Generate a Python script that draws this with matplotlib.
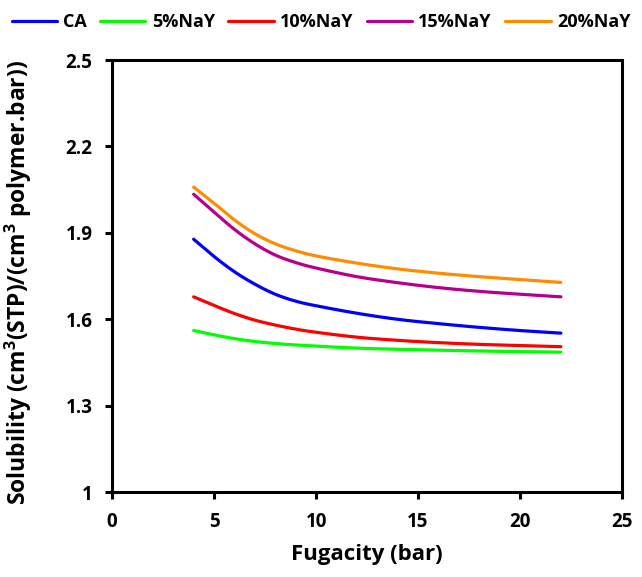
import matplotlib
matplotlib.use("Agg")
import numpy as np
import matplotlib.pyplot as plt

# Fugacity (bar)
fugacity = [4, 5, 6, 7, 8, 9, 10, 12, 14, 16, 18, 20, 22]

# Solubility (cm3(STP)/(cm3 polymer.bar))
ca      = [1.878, 1.818, 1.765, 1.722, 1.687, 1.663, 1.647, 1.621, 1.600, 1.585, 1.572, 1.561, 1.552]
nay_5   = [1.561, 1.546, 1.533, 1.523, 1.516, 1.511, 1.507, 1.500, 1.496, 1.493, 1.490, 1.488, 1.486]
nay_10  = [1.678, 1.648, 1.620, 1.597, 1.580, 1.566, 1.555, 1.538, 1.527, 1.519, 1.513, 1.509, 1.505]
nay_15  = [2.034, 1.972, 1.912, 1.862, 1.823, 1.797, 1.778, 1.748, 1.727, 1.710, 1.697, 1.687, 1.678]
nay_20  = [2.059, 2.003, 1.945, 1.897, 1.862, 1.838, 1.820, 1.795, 1.775, 1.760, 1.748, 1.738, 1.728]

series_names = ["CA", "5%NaY", "10%NaY", "15%NaY", "20%NaY"]
series_values = [ca, nay_5, nay_10, nay_15, nay_20]
colors = ["#0000FF", "#00FF00", "#FF0000", "#B5008F", "#FF8C00"]

x_ticks = [0, 5, 10, 15, 20, 25]
y_ticks = [1, 1.3, 1.6, 1.9, 2.2, 2.5]
y_tick_labels = ["1", "1.3", "1.6", "1.9", "2.2", "2.5"]


def smooth_path(x, y, n=20):
    """Catmull-Rom curve through the points, like a spreadsheet 'smoothed line'."""
    x = np.asarray(x, float)
    y = np.asarray(y, float)
    px = np.concatenate([[2 * x[0] - x[1]], x, [2 * x[-1] - x[-2]]])
    py = np.concatenate([[2 * y[0] - y[1]], y, [2 * y[-1] - y[-2]]])
    t = np.linspace(0, 1, n, endpoint=False)
    xs, ys = [], []
    for i in range(1, len(px) - 2):
        for p, out in ((px, xs), (py, ys)):
            p0, p1, p2, p3 = p[i - 1], p[i], p[i + 1], p[i + 2]
            out.extend(0.5 * ((2 * p1) + (-p0 + p2) * t
                              + (2 * p0 - 5 * p1 + 4 * p2 - p3) * t ** 2
                              + (-p0 + 3 * p1 - 3 * p2 + p3) * t ** 3))
    xs.append(x[-1])
    ys.append(y[-1])
    return np.array(xs), np.array(ys)


plt.rcParams["font.family"] = ["Open Sans", "DejaVu Sans"]
plt.rcParams["font.weight"] = "bold"
plt.rcParams["mathtext.default"] = "regular"

fig = plt.figure(figsize=(6.42, 5.77), dpi=100)
ax = fig.add_axes([0.1745, 0.147, 0.7945, 0.749])

for name, vals, c in zip(series_names, series_values, colors):
    sx, sy = smooth_path(fugacity, vals)
    ax.plot(sx, sy, color=c, lw=2.3, label=name, solid_capstyle="round")

ax.set_xlim(0, 25)
ax.set_ylim(1, 2.5)
ax.set_xticks(x_ticks)
ax.set_yticks(y_ticks)
ax.set_yticklabels(y_tick_labels)

for s in ax.spines.values():
    s.set_linewidth(2.2)
ax.tick_params(axis="both", direction="out", length=5, width=2.2,
               labelsize=13.5, pad=9)
for lbl in ax.get_xticklabels() + ax.get_yticklabels():
    lbl.set_fontweight("bold")

ax.set_xlabel("Fugacity (bar)", fontsize=16, fontweight="bold", labelpad=9)
ax.set_ylabel(r"Solubility (cm$^{3}$(STP)/(cm$^{3}$ polymer.bar))",
              fontsize=16.5, fontweight="bold")
ax.yaxis.set_label_coords(-0.152, 0.485)

fig.legend(loc="upper center", bbox_to_anchor=(0.5, 1.005), ncol=5, frameon=False,
           handlelength=2.5, handletextpad=0.35, columnspacing=0.75,
           prop={"weight": "bold", "size": 13})

fig.savefig("out.png", dpi=100)
